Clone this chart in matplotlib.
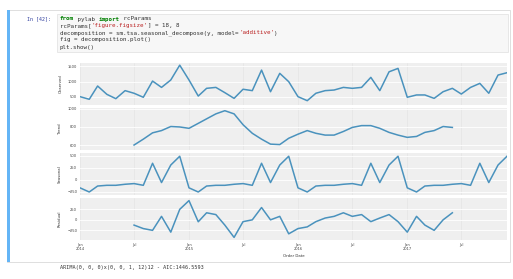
import numpy as np
import pandas as pd
import matplotlib
matplotlib.use("Agg")
import matplotlib.pyplot as plt
from matplotlib.patches import Rectangle

# monthly data, Jan 2014 - Dec 2017
dates = pd.date_range("2014-01-01", periods=48, freq="MS")

observed = [510, 425, 855, 585, 445, 705, 620, 490, 1015, 810, 1050, 1530,
            1050, 530, 780, 810, 640, 455, 750, 705, 1370, 670, 1265, 995,
            510, 380, 620, 705, 725, 810, 780, 810, 1135, 705, 1315, 1425,
            490, 565, 565, 455, 670, 780, 595, 810, 940, 620, 1210, 1285]

# centred moving average -> no values for first/last 6 months
trend_vals = [600, 665, 735, 760, 805, 800, 785, 840, 890, 945, 980, 945,
              825, 730, 665, 610, 605, 675, 720, 760, 730, 710, 710, 750,
              795, 815, 815, 785, 740, 710, 685, 695, 740, 760, 805, 795]

seasonal_year = [-170, -257, -132, -117, -117, -95, -81, -117, 345, -59, 308, 492]

resid_vals = [-125, -208, -250, 83, -293, 250, 458, -46, 168, 125, -125, -418,
              -43, 0, 293, 0, 83, -333, -208, -168, -43, 43, 83, 168,
              83, 125, -43, 43, 125, -43, -293, 83, -125, -250, 0, 168]

trend = [np.nan] * 6 + trend_vals + [np.nan] * 6
seasonal = seasonal_year * 4
resid = [np.nan] * 6 + resid_vals + [np.nan] * 6

panel_names = ["Observed", "Trend", "Seasonal", "Residual"]
panel_ticks = [[500, 1000, 1500], [600, 800, 1000], [-250, 0, 250, 500], [-250, 0, 250]]

code_lines = [
    [("from", "#008000"), (" pylab ", "#333333"), ("import", "#008000"), (" rcParams", "#333333")],
    [("rcParams[", "#333333"), ("'figure.figsize'", "#ba2121"), ("] = 18, 8", "#333333")],
    [("decomposition = sm.tsa.seasonal_decompose(y, model=", "#333333"), ("'additive'", "#ba2121"), (")", "#333333")],
    [("fig = decomposition.plot()", "#333333")],
    [("plt.show()", "#333333")],
]
output_text = "ARIMA(0, 0, 0)x(0, 0, 1, 12)12 - AIC:1446.5593"

W, H = 513, 279
fig = plt.figure(figsize=(W / 100, H / 100), dpi=100)
fig.patch.set_facecolor("white")


def px(x, y):
    return x / W, 1 - y / H


# notebook cell frame (behind the axes)
fig.patches.append(Rectangle(px(7, 262), 503 / W, 252 / H, transform=fig.transFigure,
                             facecolor="white", edgecolor="#d9d9d9", lw=0.6, zorder=-5))
fig.patches.append(Rectangle(px(7, 262), 2.5 / W, 252 / H, transform=fig.transFigure,
                             facecolor="#64b5f6", edgecolor="none", zorder=-4))
fig.patches.append(Rectangle(px(57, 52), 451 / W, 38 / H, transform=fig.transFigure,
                             facecolor="#f7f7f7", edgecolor="#e0e0e0", lw=0.5, zorder=-4))

fig.text(*px(27, 19), "In [42]:", fontsize=3.6, family="DejaVu Sans Mono",
         color="#303f9f", va="center")

mono_w = 0.602 * 4.2 / 72 * 100  # char width in px
for i, parts in enumerate(code_lines):
    x = 60
    for txt, col in parts:
        fig.text(*px(x, 19 + i * 7), txt, fontsize=4.2, family="DejaVu Sans Mono",
                 color=col, va="center",
                 weight="bold" if col == "#008000" else "normal")
        x += len(txt) * mono_w

fig.text(*px(60, 268), output_text, fontsize=3.7, family="DejaVu Sans Mono",
         color="#333333", va="center")

# decomposition panels
left, right = 80, 507
tops = [63, 108, 153, 198]
ph = 42
series = [observed, trend, seasonal, resid]
axes = []
for k in range(4):
    ax = fig.add_axes([left / W, 1 - (tops[k] + ph) / H, (right - left) / W, ph / H])
    ax.set_facecolor("#efefef")
    ax.plot(dates, series[k], color="#4a92bd", lw=1.1, solid_joinstyle="round")
    ax.set_xlim(dates[0], dates[-1])
    ax.set_yticks(panel_ticks[k])
    ax.set_ylabel(panel_names[k], fontsize=2.8, labelpad=4, color="#333333")
    ax.tick_params(axis="both", length=0, labelsize=2.6, colors="#444444", pad=2)
    ax.grid(True, axis="y", color="#ffffff", lw=0.6)
    ax.grid(True, axis="x", color="#e2e2e2", lw=0.4)
    for s in ax.spines.values():
        s.set_visible(False)
    axes.append(ax)

axes[0].set_ylim(240, 1600)
axes[1].set_ylim(545, 1010)
axes[2].set_ylim(-320, 560)
axes[3].set_ylim(-480, 520)

tick_dates = pd.date_range("2014-01-01", "2017-07-01", freq="6MS")
tick_labels = [d.strftime("%b\n%Y") if d.month == 1 else d.strftime("%b") for d in tick_dates]
for ax in axes:
    ax.set_xticks(tick_dates)
    ax.set_xticklabels([])
axes[3].set_xticklabels(tick_labels, fontsize=2.6, linespacing=1.1)
axes[3].set_xlabel("Order Date", fontsize=2.8, labelpad=2, color="#333333")

fig.savefig("out.png", dpi=100, facecolor=fig.get_facecolor())
